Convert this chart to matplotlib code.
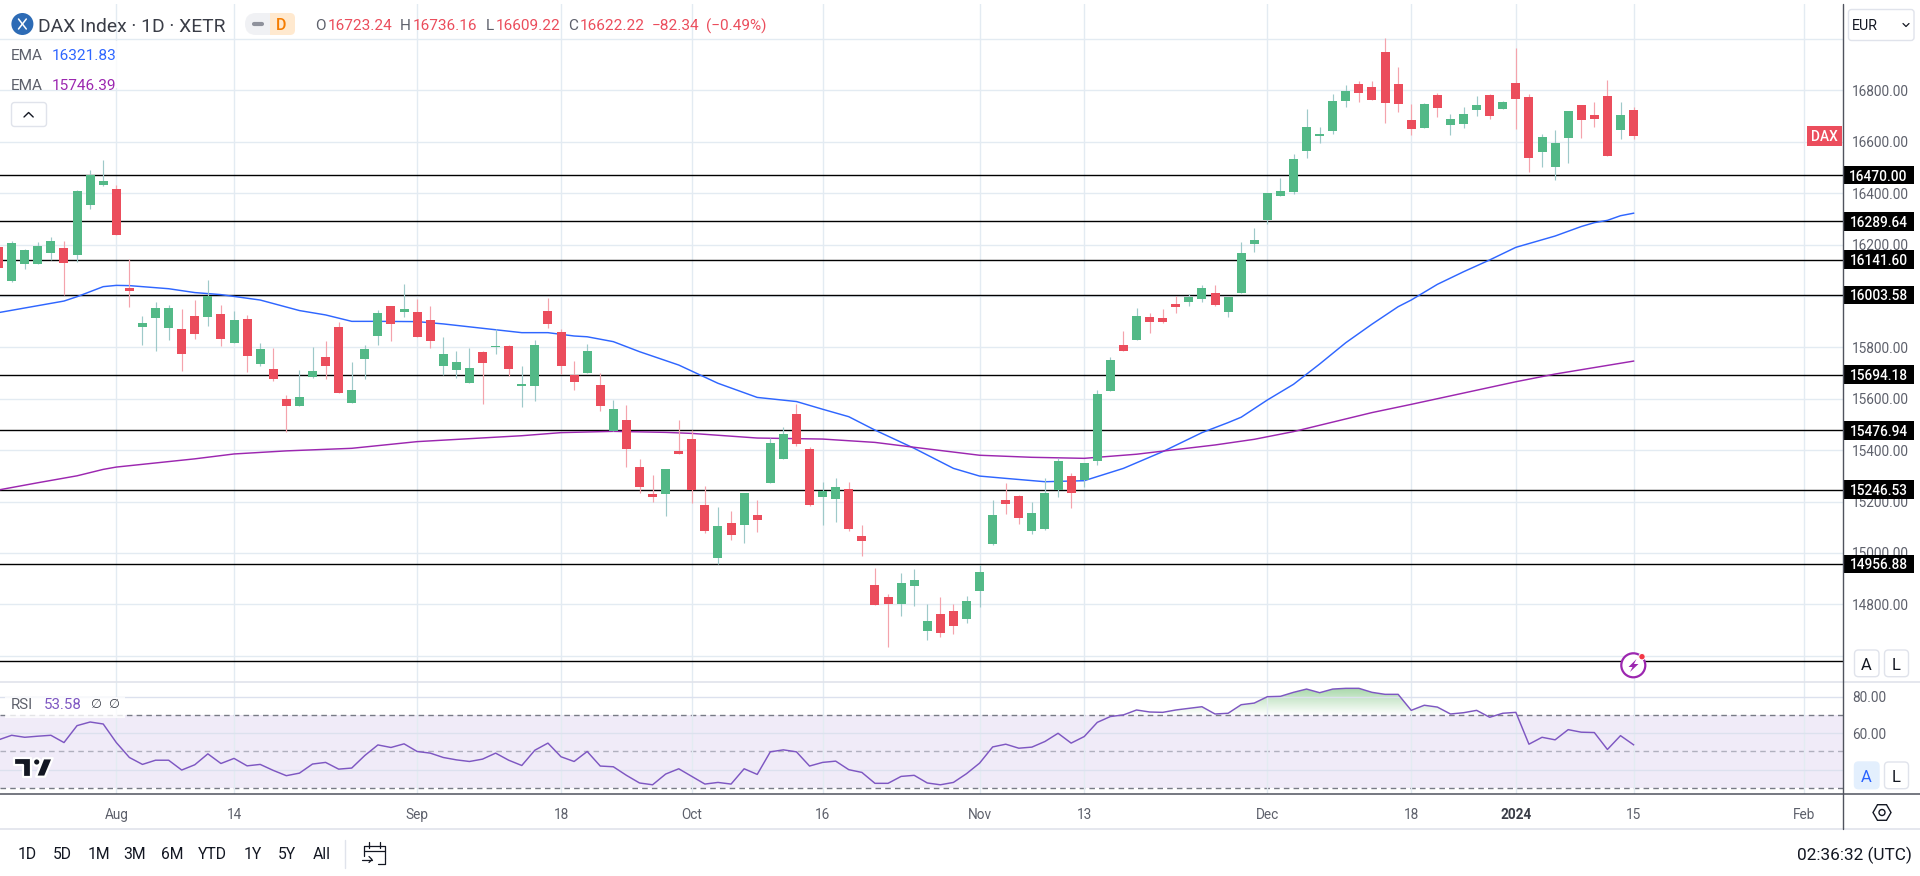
import numpy as np
import matplotlib
matplotlib.use("Agg")
import matplotlib.pyplot as plt
from matplotlib.patches import Rectangle, Circle, FancyBboxPatch, Polygon, RegularPolygon, PathPatch
from matplotlib.path import Path

plt.rcParams['font.family'] = ['Roboto', 'DejaVu Sans']

first_day = -9
opens = [16190,16058,16124,16124,16167,16187,16159,16354,16432,16416,
16031,15879,15914,15875,15871,15922,15918,15930,15817,15910,
15735,15716,15599,15572,15685,15762,15879,15583,15755,15844,
15961,15938,15938,15906,15727,15712,15661,15782,15801,15805,
15650,15650,15941,15860,15692,15700,15654,15475,15517,15334,
15229,15229,15397,15443,15187,14980,15116,15109,15148,15272,
15366,15541,15405,15218,15210,15249,15066,14875,14829,14801,
14871,14696,14762,14774,14743,14852,15035,15206,15222,15085,
15093,15245,15299,15284,15358,15630,15809,15829,15918,15914,
15969,15976,15988,16011,15938,16011,16202,16295,16389,16404,
16564,16622,16642,16758,16825,16813,16949,16825,16685,16654,
16782,16665,16669,16724,16782,16727,16828,16774,16560,16502,
16615,16743,16704,16778,16646,16723.24]
highs = [16198,16214,16184,16210,16229,16214,16412,16490,16529,16432,
16144,15922,15976,15965,15949,15984,16062,15965,15941,15926,
15817,15797,15615,15712,15801,15825,15899,15743,15809,15945,
15961,16047,15988,15961,15840,15786,15797,15786,15871,15809,
15727,15829,15992,15871,15747,15813,15700,15595,15576,15366,
15303,15327,15517,15478,15260,15179,15163,15233,15206,15447,
15490,15580,15412,15276,15292,15276,15109,14941,14840,14922,
14937,14801,14829,14801,14832,14953,15206,15272,15226,15198,
15292,15369,15311,15350,15634,15762,15864,15953,15934,15949,
16000,16008,16043,16043,15996,16210,16264,16400,16459,16552,
16727,16657,16786,16821,16836,16836,17004,16891,16747,16751,
16790,16708,16735,16778,16786,16759,16965,16786,16630,16646,
16720,16743,16755,16840,16755,16736.16]
lows = [16101,16054,16105,16124,16140,16004,16133,16338,16429,16237,
15957,15809,15786,15829,15708,15833,15883,15805,15817,15704,
15727,15669,15472,15572,15681,15677,15622,15583,15677,15809,
15825,15918,15840,15797,15692,15681,15661,15580,15774,15688,
15568,15591,15875,15696,15634,15700,15552,15475,15334,15233,
15198,15144,15385,15194,15078,14957,15050,15039,15082,15272,
15366,15416,15183,15109,15120,15085,14988,14797,14634,14755,
14794,14661,14673,14685,14727,14790,15031,15152,15113,15074,
15089,15218,15175,15257,15342,15630,15786,15829,15856,15895,
15934,15961,15976,15961,15918,16011,16171,16280,16389,16397,
16537,16595,16630,16735,16755,16762,16673,16716,16626,16654,
16696,16626,16654,16700,16689,16727,16650,16482,16502,16451,
16517,16615,16657,16544,16611,16609.22]
closes = [16109,16206,16179,16194,16214,16128,16408,16471,16447,16237,
16019,15895,15953,15953,15774,15852,16000,15833,15906,15766,
15794,15677,15572,15607,15708,15727,15622,15634,15794,15934,
15891,15949,15840,15825,15774,15743,15720,15739,15805,15716,
15657,15809,15891,15727,15665,15786,15572,15560,15405,15257,
15218,15327,15385,15245,15085,15105,15070,15233,15128,15428,
15463,15424,15187,15241,15257,15093,15046,14797,14801,14883,
14895,14735,14689,14716,14813,14926,15148,15190,15136,15155,
15233,15358,15233,15350,15618,15751,15786,15922,15899,15899,
15957,15996,16031,15965,15996,16167,16218,16400,16408,16533,
16657,16630,16758,16797,16790,16762,16751,16747,16650,16747,
16731,16689,16708,16743,16700,16755,16766,16537,16618,16595,
16720,16685,16689,16544,16704,16622.22]

ema_fast_days = [-9,-4,-3,-1,0,1,4,6,8,11,14,16,18,20,23,25,28,31,33,35,36,38,40,43,46,49,52,54,56,58,61,64,66,68,71,74,77,80,83,85,86,88,90,92,94,96,98,99,101,103,105,107,110,112,113,114,115,116]
ema_fast = [15935,15980,15997,16036,16041,16040,16028,16013,16005,15984,15943,15926,15901,15901,15900,15891,15874,15857,15857,15844,15841,15822,15783,15731,15660,15605,15589,15559,15530,15478,15407,15329,15299,15290,15277,15281,15329,15394,15468,15507,15528,15595,15656,15735,15818,15890,15958,15984,16045,16094,16140,16189,16233,16270,16285,16294,16312,16321.83]
ema_slow_days = [-9,-6,-3,-1,0,6,9,13,18,23,31,34,38,42,44,49,54,58,61,66,70,74,78,84,87,90,96,99,107,110,116]
ema_slow = [15245,15273,15300,15325,15334,15366,15385,15397,15407,15433,15456,15468,15473,15469,15465,15447,15443,15430,15411,15380,15372,15368,15384,15420,15442,15472,15546,15578,15666,15696,15746.39]

rsi = [56.3,58.8,57.7,58.3,58.8,54.8,64.1,66.1,65.0,54.8,46.6,42.8,45.1,45.1,39.7,42.6,48.6,43.3,46.1,42.0,
42.8,39.5,36.6,38.0,43.0,43.9,40.2,40.8,47.7,53.5,52.1,54.1,49.9,49.0,46.6,45.3,44.4,45.7,49.0,45.1,
42.2,50.6,54.5,47.0,44.4,49.9,41.9,41.5,36.8,32.6,31.6,37.5,40.4,36.2,32.0,32.9,32.0,40.4,37.3,49.7,
50.8,49.7,41.9,43.9,44.6,39.9,38.4,32.4,32.4,36.2,36.8,32.6,31.6,32.9,37.7,43.5,52.4,53.9,51.7,52.3,
55.4,59.9,54.5,58.1,65.9,69.1,70.0,72.7,71.6,71.4,72.7,73.6,74.5,70.5,70.9,75.6,76.5,80.0,80.2,82.4,
84.2,82.2,84.2,84.6,84.6,82.4,81.3,81.3,72.5,75.3,74.3,70.5,71.2,72.5,68.7,70.9,71.4,53.9,57.7,56.3,
61.9,60.5,60.3,51.0,58.6,53.58]

levels = [16470.00,16289.64,16141.60,16003.58,15694.18,15476.94,15246.53,14956.88]
hidden_level = [14578]
price_ticks = [17000,16800,16600,16400,16200,16000,15800,15600,15400,15200,15000,14800,14600]
price_labels = {16800:'16800.00',16600:'16600.00',16400:'16400.00',16200:'16200.00',
                15800:'15800.00',15600:'15600.00',15400:'15400.00',15200:'15200.00',15000:'15000.00',14800:'14800.00'}
time_ticks = [0,9,23,34,44,54,66,74,88,99,107,116,129]
time_labels = ['Aug','14','Sep','18','Oct','16','Nov','13','Dec','18','2024','15','Feb']
ranges = ['1D','5D','1M','3M','6M','YTD','1Y','5Y','All']

W, H = 1920, 876
GREEN, RED = '#53B987', '#EB4D5C'
GREEN_W, RED_W = '#9EC9C9', '#F4A3AC'
GRID = '#E3EBF2'
DARK = '#131722'
GREY = '#5D606B'
AXC = '#50535E'
BLUE, PURPLE, RSIC = '#2F66FF', '#9C27B0', '#7E57C2'
FS = 9.8
HS = 11.1

fig = plt.figure(figsize=(W/100, H/100), dpi=100, facecolor='white')
def axpx(x0, y0, x1, y1, **kw):
    return fig.add_axes([x0/W, 1-y1/H, (x1-x0)/W, (y1-y0)/H], **kw)

PX_DAY = 13.08
XLIM = (-116.3/PX_DAY, (1843-116.3)/PX_DAY)
PX_PRICE = 0.257

ax = axpx(0, 4, 1843, 682.3)
ax.set_xlim(*XLIM)
ax.set_ylim(17151.4-682.3/PX_PRICE, 17151.4-4/PX_PRICE)
rs = axpx(0, 682.3, 1843, 794.3)
rs.set_xlim(*XLIM)
rs.set_ylim(80-97.6/1.82, 80+14.4/1.82)

days = np.arange(first_day, first_day+len(opens))
o, h, l, c = map(np.array, (opens, highs, lows, closes))
up = c >= o

ax.set_yticks(price_ticks)
ax.set_yticklabels([price_labels.get(t, '') for t in price_ticks])
ax.yaxis.tick_right()
ax.tick_params(axis='y', length=0, pad=6.5, labelsize=FS, labelcolor=GREY)
ax.tick_params(axis='x', length=0, labelbottom=False)
ax.set_xticks(time_ticks)
ax.grid(True, color=GRID, lw=1.0, zorder=0)
ax.set_axisbelow(True)
for s in ax.spines.values():
    s.set_visible(False)

for lv in levels + hidden_level:
    ax.axhline(lv, color='#000000', lw=1.0, zorder=1)

ax.plot(ema_fast_days, ema_fast, color=BLUE, lw=1.05, zorder=2)
ax.plot(ema_slow_days, ema_slow, color=PURPLE, lw=1.05, zorder=2)

ax.vlines(days[up], l[up], h[up], color=GREEN_W, lw=0.85, zorder=3)
ax.vlines(days[~up], l[~up], h[~up], color=RED_W, lw=0.85, zorder=3)
bw = 9/PX_DAY
ax.bar(days[up], (c-o)[up], bottom=o[up], width=bw, color=GREEN, lw=0, zorder=4)
ax.bar(days[~up], (o-c)[~up], bottom=c[~up], width=bw, color=RED, lw=0, zorder=4)

for lv in levels:
    ax.add_patch(Rectangle((1.0, lv-36), 71/1843, 72, transform=ax.get_yaxis_transform(),
                           clip_on=False, color='#000000', lw=0, zorder=6))
    ax.text(1.0+35.5/1843, lv, f'{lv:.2f}', transform=ax.get_yaxis_transform(), ha='center', va='center_baseline',
            color='white', fontsize=FS, fontweight='medium', zorder=7, clip_on=False)

ax.add_patch(Rectangle((1.0-36/1843, closes[-1]-37), 35/1843, 74, transform=ax.get_yaxis_transform(),
                       clip_on=False, color=RED, lw=0, zorder=6))
ax.text(1.0-18.5/1843, closes[-1], 'DAX', transform=ax.get_yaxis_transform(), ha='center', va='center_baseline',
        color='white', fontsize=FS, fontweight='medium', zorder=7)

# RSI pane
rsi_days = np.arange(first_day, first_day+len(rsi))
rsi_arr = np.array(rsi)
rs.axhspan(30, 70, facecolor='#7E57C2', alpha=0.115, lw=0, zorder=0.5)
rs.set_xticks(time_ticks)
rs.set_xticklabels(time_labels)
rs.set_yticks([80, 60, 40])
rs.set_yticklabels(['80.00', '60.00', ''])
rs.yaxis.tick_right()
rs.tick_params(axis='y', length=0, pad=6.5, labelsize=FS, labelcolor=GREY)
rs.tick_params(axis='x', length=0, pad=10, labelsize=FS, labelcolor=GREY)
rs.get_xticklabels()[10].set_fontweight('bold')
rs.get_xticklabels()[10].set_color('#3A3D47')
rs.grid(True, color=GRID, lw=1.0, zorder=0)
rs.set_axisbelow(False)
for gl in rs.get_ygridlines():
    gl.set_color('#DCE1EE')
for s in rs.spines.values():
    s.set_visible(False)
for v, col in ((70, '#787B86'), (50, '#B0B0BE'), (30, '#787B86')):
    rs.axhline(v, color=col, lw=1.0, ls=(0, (4, 3)), zorder=2)
poly = rs.fill_between(rsi_days, 70, rsi_arr, where=rsi_arr > 70, interpolate=True, color='none', lw=0)
clip = Path.make_compound_path(*poly.get_paths())
grad = np.zeros((64, 2, 4))
grad[..., 0], grad[..., 1], grad[..., 2] = 76/255, 175/255, 80/255
grad[..., 3] = np.linspace(0.5, 0.0, 64)[:, None]
im = rs.imshow(grad, extent=[XLIM[0], XLIM[1], 70, 85], aspect='auto', origin='upper', zorder=1.5, interpolation='bilinear')
im.set_clip_path(PathPatch(clip, transform=rs.transData))
rs.set_xlim(*XLIM)
rs.set_ylim(80-97.6/1.82, 80+14.4/1.82)
rs.plot(rsi_days, rsi_arr, color=RSIC, lw=1.05, zorder=3)

# pixel overlay for the surrounding interface
ui = fig.add_axes([0, 0, 1, 1], zorder=10)
ui.set_xlim(0, W); ui.set_ylim(H, 0); ui.axis('off')
ui.patch.set_alpha(0)

def rect(x0, y0, x1, y1, **kw):
    ui.add_patch(Rectangle((x0, y0), x1-x0, y1-y0, lw=0, **kw))
def rbox(x0, y0, x1, y1, r=3, fc='white', ec='#E0E3EB', lw=1.0):
    ui.add_patch(FancyBboxPatch((x0+r, y0+r), x1-x0-2*r, y1-y0-2*r, boxstyle=f'round,pad={r},rounding_size={r}',
                                fc=fc, ec=ec, lw=lw, mutation_aspect=1))
def txt(x, y, s, color=DARK, fs=FS, ha='left', **kw):
    ui.text(x, y, s, color=color, fontsize=fs, ha=ha, va='center_baseline', **kw)
def seg(xs, ys, color=DARK, lw=1.0):
    ui.plot(xs, ys, color=color, lw=lw, solid_capstyle='round')

rect(0, 41, 122, 88, fc='white', alpha=0.8)
rect(5, 697, 125, 718, fc='white', alpha=0.8)

# frame lines
seg([0, 1920], [682.3, 682.3], '#E0E3EB', 1.2)
seg([0, 1920], [794.3, 794.3], AXC, 1.1)
seg([0, 1920], [829.3, 829.3], '#E0E3EB', 1.2)
seg([1843, 1843], [4, 829], AXC, 1.0)

# header
ui.add_patch(Circle((22.4, 24), 11, fc='#2D6BB5', lw=0))
seg([18.5, 26.3], [19, 29], 'white', 1.1); seg([26.3, 18.5], [19, 29], 'white', 1.1)
txt(38.5, 25, 'DAX Index · 1D · XETR', '#3A3D47', 13.9)
ui.add_patch(FancyBboxPatch((256, 24), 28, 0, boxstyle='round,pad=11,rounding_size=11', fc='#F0F1F4', lw=0))
rect(270, 13, 286, 35, fc='#FFE9CF')
ui.add_patch(FancyBboxPatch((286, 18), 4, 12, boxstyle='round,pad=5,rounding_size=5', fc='#FFE9CF', lw=0))
seg([254, 262], [24, 24], '#8F929C', 3.0)
txt(281, 24.5, 'D', '#F57C00', 11.5, ha='center', fontweight='medium')

OHLC = [(315, 'O', 328, '16723.24'), (400, 'H', 413, '16736.16'), (485.5, 'L', 495.5, '16609.22'), (568, 'C', 579.5, '16622.22')]
for xl, a, xv, b in OHLC:
    txt(xl, 25, a, GREY, HS)
    txt(xv, 25, b, RED, HS)
txt(652, 25, '−82.34', RED, HS)
txt(706, 25, '(−0.49%)', RED, HS)

txt(11, 55, 'EMA', GREY, HS)
txt(51.5, 55, '16321.83', BLUE, HS)
txt(11, 84.7, 'EMA', GREY, HS)
txt(51.5, 84.7, '15746.39', PURPLE, HS)
rbox(11.5, 102.5, 46.5, 126.5)
seg([24, 28.6, 33.2], [117, 112.5, 117], DARK, 1.0)

rbox(1848.5, 9.5, 1914, 40.5)
txt(1852, 25, 'EUR', DARK, 10.3)
seg([1903, 1906, 1909], [23.5, 26.5, 23.5], DARK, 0.9)

txt(11, 703.3, 'RSI', GREY, 10.8)
txt(43.5, 703.3, '53.58', RSIC, 10.8)
txt(95, 703.3, '∅', '#3A3D47', 9, ha='center', family=['DejaVu Sans'])
txt(113, 703.3, '∅', '#3A3D47', 9, ha='center', family=['DejaVu Sans'])

# watermark
logo = dict(fc='#131722', ec='white', lw=1.6, joinstyle='round', zorder=5)
ui.add_patch(Polygon([(14, 757.5), (30.7, 757.5), (30.7, 776.7), (22.7, 776.7), (22.7, 764.7), (14, 764.7)], **logo))
ui.add_patch(Circle((36.7, 762), 3.7, **logo))
ui.add_patch(Polygon([(43.3, 758.3), (52.7, 758.3), (45, 776.7), (36, 776.7)], **logo))

# lightning badge
ui.add_patch(Circle((1633.3, 665.3), 12, fc='white', ec=PURPLE, lw=1.6))
ui.add_patch(Polygon([(1636.5, 659), (1628.5, 667), (1632.5, 667), (1630, 672), (1638.5, 664), (1634, 664)], fc=PURPLE, lw=0))
ui.add_patch(Circle((1642, 656.7), 3.2, fc='#F23645', ec='white', lw=0.7))

# scale buttons
for y0, y1, hot in ((650, 676.7, False), (762, 788.7, True)):
    if hot:
        rbox(1854.5, y0, 1879, y1, r=4, fc='#E3EFFD', ec='#E3EFFD')
    else:
        rbox(1854.5, y0, 1879, y1, r=4)
    rbox(1884.5, y0, 1908.5, y1, r=4)
    txt(1866.5, (y0+y1)/2+0.5, 'A', '#2962FF' if hot else DARK, 12, ha='center')
    txt(1896.5, (y0+y1)/2+0.5, 'L', DARK, 12, ha='center')

# settings
ui.add_patch(RegularPolygon((1882, 812.5), 6, radius=9, orientation=np.pi/2, fc='white', ec=DARK, lw=1.0))
ui.add_patch(Circle((1882, 812.5), 3, fc='white', ec=DARK, lw=1.0))

# bottom toolbar
for s, x in zip(ranges, [27.6, 62.5, 98.6, 134.7, 172, 212.5, 252.3, 286.6, 321.5]):
    txt(x, 853, s, DARK, 11.3, ha='center')
seg([345, 345], [840, 868], '#E0E3EB', 1.0)
seg([364, 364, 385, 385], [856, 846, 846, 858], DARK, 0.9)
seg([364, 385], [851, 851], DARK, 0.9)
seg([369, 369], [842, 848], DARK, 0.9); seg([380, 380], [842, 848], DARK, 0.9)
seg([378, 385, 385], [864, 864, 858], DARK, 0.9)
seg([362, 372], [859.5, 859.5], DARK, 0.9); seg([369, 372, 369], [856.5, 859.5, 862.5], DARK, 0.9)
txt(1912, 853, '02:36:32 (UTC)', DARK, 12.4, ha='right')

fig.savefig('out.png', dpi=100)
